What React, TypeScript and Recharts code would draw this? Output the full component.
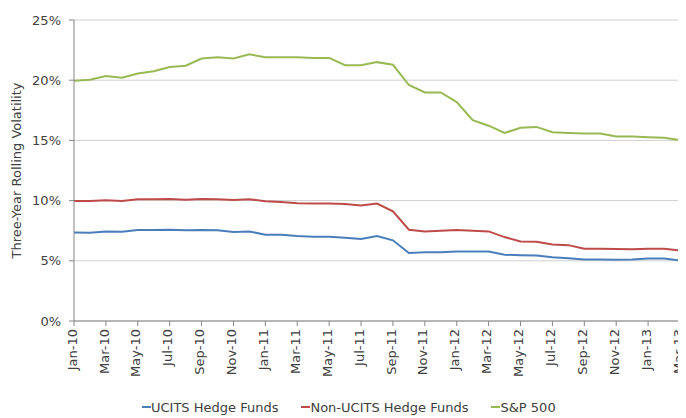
import React from "react";
import {
  LineChart,
  Line,
  XAxis,
  YAxis,
  CartesianGrid,
  Legend,
} from "recharts";

const months = [
  "Jan-10", "Feb-10", "Mar-10", "Apr-10", "May-10", "Jun-10", "Jul-10", "Aug-10", "Sep-10", "Oct-10", "Nov-10", "Dec-10",
  "Jan-11", "Feb-11", "Mar-11", "Apr-11", "May-11", "Jun-11", "Jul-11", "Aug-11", "Sep-11", "Oct-11", "Nov-11", "Dec-11",
  "Jan-12", "Feb-12", "Mar-12", "Apr-12", "May-12", "Jun-12", "Jul-12", "Aug-12", "Sep-12", "Oct-12", "Nov-12", "Dec-12",
  "Jan-13", "Feb-13", "Mar-13",
];

const ucits = [
  7.36, 7.33, 7.44, 7.42, 7.56, 7.56, 7.58, 7.53, 7.56, 7.53, 7.39, 7.44,
  7.17, 7.17, 7.06, 7.0, 7.0, 6.92, 6.82, 7.05, 6.7, 5.64, 5.7, 5.7,
  5.78, 5.78, 5.78, 5.5, 5.47, 5.44, 5.3, 5.22, 5.1, 5.1, 5.08, 5.1,
  5.2, 5.2, 5.03,
];

const nonUcits = [
  9.97, 9.97, 10.03, 9.97, 10.11, 10.11, 10.14, 10.08, 10.14, 10.11, 10.05, 10.11,
  9.94, 9.89, 9.78, 9.75, 9.75, 9.72, 9.6, 9.75, 9.11, 7.58, 7.44, 7.5,
  7.55, 7.5, 7.44, 6.97, 6.6, 6.58, 6.36, 6.3, 6.0, 6.0, 5.97, 5.95,
  6.0, 6.0, 5.86,
];

const sp500 = [
  19.96, 20.03, 20.35, 20.2, 20.55, 20.75, 21.1, 21.2, 21.8, 21.9, 21.8, 22.15,
  21.9, 21.9, 21.9, 21.85, 21.85, 21.25, 21.25, 21.5, 21.28, 19.6, 18.98, 18.98,
  18.18, 16.68, 16.22, 15.62, 16.05, 16.12, 15.68, 15.62, 15.58, 15.58, 15.32, 15.32,
  15.27, 15.22, 15.02,
];

const yTicks = [0, 5, 10, 15, 20, 25];

const series = [
  { key: "ucits", name: "UCITS Hedge Funds", color: "#4a7ebb" },
  { key: "nonUcits", name: "Non-UCITS Hedge Funds", color: "#be4b48" },
  { key: "sp500", name: "S&P 500", color: "#98b954" },
];

const data = months.map((m, i) => ({
  month: m,
  ucits: ucits[i],
  nonUcits: nonUcits[i],
  sp500: sp500[i],
}));

const font = "'DejaVu Sans', sans-serif";
const textColor = "#404040";

function XTick(props: any) {
  const { x, y, payload } = props;
  return (
    <g transform={`translate(${x},${y})`}>
      <text
        transform="rotate(-90)"
        textAnchor="end"
        x={0}
        dy="0.2em"
        fontSize={13}
        fontFamily={font}
        fill={textColor}
      >
        {payload.value}
      </text>
    </g>
  );
}

function LegendContent() {
  return (
    <div
      style={{
        display: "flex",
        marginLeft: 134,
        fontFamily: font,
        fontSize: 13,
        color: textColor,
        height: 22,
        alignItems: "center",
      }}
    >
      {series.map((s) => (
        <div
          key={s.key}
          style={{ display: "flex", alignItems: "center", marginRight: 23 }}
        >
          <span
            style={{
              display: "inline-block",
              width: 9,
              height: 2,
              background: s.color,
            }}
          />
          <span>{s.name}</span>
        </div>
      ))}
    </div>
  );
}

export default function App() {
  return (
    <div style={{ width: 678, height: 410 }}>
      <LineChart
        width={678}
        height={410}
        data={data}
        margin={{ top: 12, right: 6, bottom: 0, left: 0 }}
      >
        <CartesianGrid vertical={false} stroke="#d0d0d0" />
        <XAxis
          dataKey="month"
          interval={1}
          height={75}
          tickSize={5}
          tickMargin={3}
          stroke="#868686"
          tick={<XTick />}
        />
        <YAxis
          width={66}
          domain={[0, 25]}
          ticks={yTicks}
          tickFormatter={(v: number) => `${v}%`}
          tickSize={5}
          tickMargin={8}
          stroke="#868686"
          tick={{ fill: textColor, fontSize: 13, fontFamily: font }}
          label={{
            value: "Three-Year Rolling Volatility",
            angle: -90,
            position: "insideLeft",
            offset: 8,
            style: {
              textAnchor: "middle",
              fill: textColor,
              fontSize: 13,
              fontFamily: font,
            },
          }}
        />
        <Legend
          verticalAlign="bottom"
          height={22}
          content={<LegendContent />}
          wrapperStyle={{ left: 0, width: 678 }}
        />
        {series.map((s) => (
          <Line
            key={s.key}
            dataKey={s.key}
            name={s.name}
            stroke={s.color}
            strokeWidth={2}
            dot={false}
            type="linear"
            isAnimationActive={false}
          />
        ))}
      </LineChart>
    </div>
  );
}
